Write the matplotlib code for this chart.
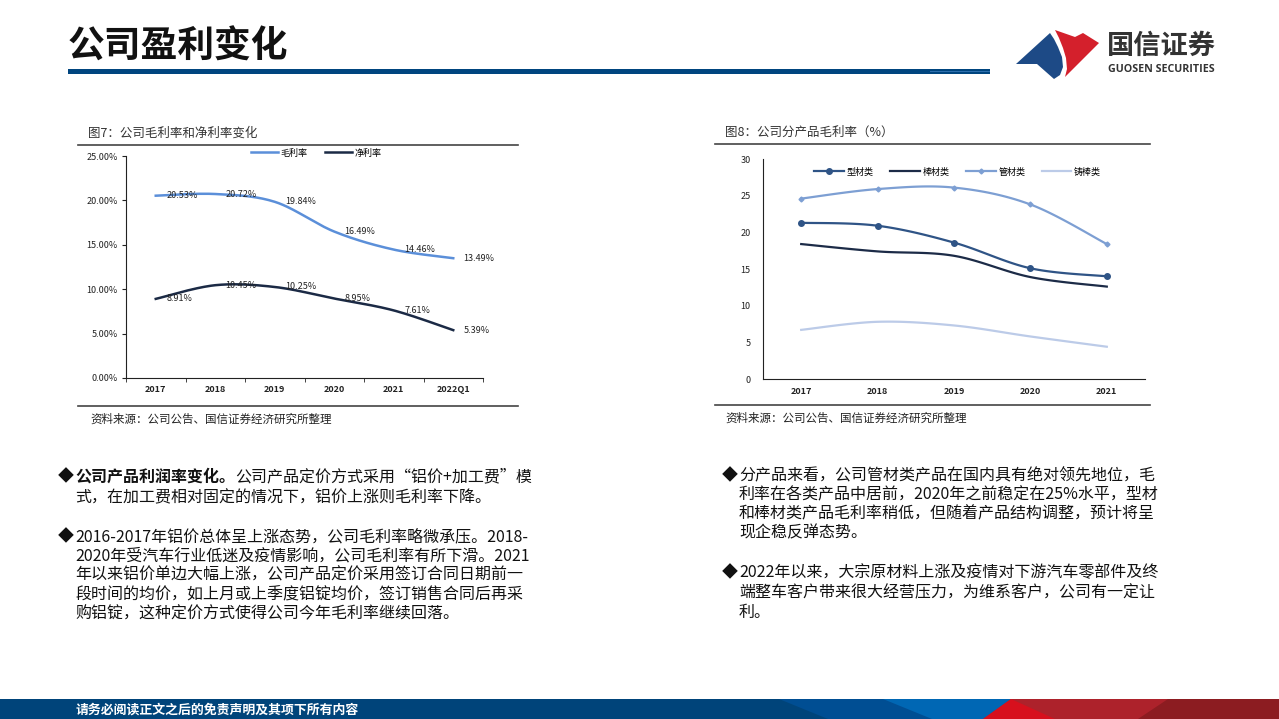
import matplotlib
matplotlib.use("Agg")
import matplotlib.pyplot as plt
from matplotlib.patches import Polygon, Rectangle
from matplotlib.ticker import FuncFormatter
import numpy as np

plt.rcParams["font.family"] = ["Noto Sans CJK SC", "DejaVu Sans"]

W, H = 1279, 719

# 图7 data (%)
years7 = ["2017", "2018", "2019", "2020", "2021", "2022Q1"]
gross7 = [20.53, 20.72, 19.84, 16.49, 14.46, 13.49]
net7 = [8.91, 10.45, 10.25, 8.95, 7.61, 5.39]

# 图8 data (%)
years8 = ["2017", "2018", "2019", "2020", "2021"]
profile8 = [21.3, 20.9, 18.6, 15.1, 14.0]   # 型材类
rod8 = [18.4, 17.4, 16.8, 13.9, 12.6]       # 棒材类
tube8 = [24.6, 25.9, 26.1, 23.8, 18.4]      # 管材类
cast8 = [6.7, 7.8, 7.3, 5.8, 4.4]           # 铸棒类

left_lines = [
    "式，在加工费相对固定的情况下，铝价上涨则毛利率下降。",
    "2016-2017年铝价总体呈上涨态势，公司毛利率略微承压。2018-",
    "2020年受汽车行业低迷及疫情影响，公司毛利率有所下滑。2021",
    "年以来铝价单边大幅上涨，公司产品定价采用签订合同日期前一",
    "段时间的均价，如上月或上季度铝锭均价，签订销售合同后再采",
    "购铝锭，这种定价方式使得公司今年毛利率继续回落。",
]
right_lines = [
    "分产品来看，公司管材类产品在国内具有绝对领先地位，毛",
    "利率在各类产品中居前，2020年之前稳定在25%水平，型材",
    "和棒材类产品毛利率稍低，但随着产品结构调整，预计将呈",
    "现企稳反弹态势。",
    "2022年以来，大宗原材料上涨及疫情对下游汽车零部件及终",
    "端整车客户带来很大经营压力，为维系客户，公司有一定让",
    "利。",
]


def smooth(vals, steps=30):
    """Excel-style smoothed line (Bezier through the points)."""
    y = np.asarray(vals, float)
    x = np.arange(len(y), dtype=float)
    P = np.column_stack([x, y])
    Pp = np.vstack([P[:1], P, P[-1:]])
    t = np.linspace(0, 1, steps)[:, None]
    out = []
    for i in range(len(y) - 1):
        p0, p3 = P[i], P[i + 1]
        p1 = p0 + (Pp[i + 2] - Pp[i]) / 6
        p2 = p3 - (Pp[i + 3] - Pp[i + 1]) / 6
        b = (1 - t) ** 3 * p0 + 3 * (1 - t) ** 2 * t * p1 + 3 * (1 - t) * t ** 2 * p2 + t ** 3 * p3
        out.append(b)
    out = np.vstack(out)
    return out[:, 0], out[:, 1]


fig = plt.figure(figsize=(W / 100, H / 100), dpi=100)
bg = fig.add_axes([0, 0, 1, 1])
bg.set_xlim(0, W)
bg.set_ylim(H, 0)
bg.axis("off")


def px_axes(x0, y0, x1, y1):
    return fig.add_axes([x0 / W, 1 - y1 / H, (x1 - x0) / W, (y1 - y0) / H])


# ---- header
bg.text(68, 47, "公司盈利变化", fontsize=26.5, fontweight="bold", color="#111111", va="center")
bg.add_patch(Rectangle((68, 69), 922, 4.5, color="#00457f", lw=0))
bg.add_patch(Rectangle((930, 70.5), 60, 1.3, color="#4d8ccc", lw=0, alpha=0.6))

# logo
blue_pts = [(1050, 33), (1016, 64), (1037, 64), (1054, 79), (1060, 75), (1063, 67),
            (1062, 57), (1058, 47), (1054, 39)]
red_pts = [(1055, 30), (1075, 37), (1083, 33), (1099, 43), (1065, 77), (1067, 69),
           (1066, 58), (1063, 48), (1059, 38)]
bg.add_patch(Polygon(blue_pts, closed=True, color="#1d4a86", lw=0))
bg.add_patch(Polygon(red_pts, closed=True, color="#d4202c", lw=0))
bg.text(1107, 46, "国信证券", fontsize=19.6, color="#333333", va="center", fontweight="bold")
bg.text(1108, 70, "GUOSEN SECURITIES", fontsize=7.7, color="#333333", va="center",
        fontweight="bold", family=["Open Sans", "DejaVu Sans"])

# ---- footer
bg.add_patch(Rectangle((0, 699), W, 20, color="#00447a", lw=0))
bg.add_patch(Polygon([(779, 699), (W, 699), (W, 719), (828, 719)], color="#004e93", lw=0))
bg.add_patch(Polygon([(883, 699), (W, 699), (W, 719), (932, 719)], color="#0067b4", lw=0))
bg.add_patch(Polygon([(1011, 699), (W, 699), (W, 719), (983, 719)], color="#ad222b", lw=0))
bg.add_patch(Polygon([(1011, 699), (1055, 719), (983, 719)], color="#d7101d", lw=0))
bg.add_patch(Polygon([(1168, 699), (W, 699), (W, 719), (1138, 719)], color="#8c1c21", lw=0))
bg.text(76, 710, "请务必阅读正文之后的免责声明及其项下所有内容", fontsize=9.3,
        color="white", va="center", fontweight="bold")

# ---- chart frames
bg.text(88, 133, "图7：公司毛利率和净利率变化", fontsize=9, color="#333333", va="center")
bg.plot([78, 518], [145, 145], color="#444444", lw=1.2)
bg.plot([78, 518], [406, 406], color="#444444", lw=1.2)
bg.text(90, 419, "资料来源：公司公告、国信证券经济研究所整理", fontsize=8.3, color="#222222", va="center")

bg.text(725, 132, "图8：公司分产品毛利率（%）", fontsize=9, color="#333333", va="center")
bg.plot([715, 1150], [144, 144], color="#444444", lw=1.2)
bg.plot([715, 1150], [405, 405], color="#444444", lw=1.2)
bg.text(725, 418, "资料来源：公司公告、国信证券经济研究所整理", fontsize=8.3, color="#222222", va="center")

# ---- chart 7
ax1 = px_axes(126, 156, 483, 378)
x7 = np.arange(len(years7))
for vals, color, name in [(gross7, "#5b8fd9", "毛利率"), (net7, "#1b2a45", "净利率")]:
    sx, sy = smooth(vals)
    ax1.plot(sx, sy, color=color, lw=1.8, label=name)
    for xi, v in zip(x7, vals):
        ax1.annotate(f"{v:.2f}%", (xi, v), xytext=(7.5, 0), textcoords="offset points",
                     ha="left", va="center", fontsize=6.5, color="#222222")
ax1.set_xlim(-0.5, len(years7) - 0.5)
ax1.set_ylim(0, 25)
ax1.set_yticks(np.arange(0, 26, 5))
ax1.yaxis.set_major_formatter(FuncFormatter(lambda v, p: f"{v:.2f}%"))
ax1.set_xticks(x7)
ax1.set_xticklabels(years7, fontweight="bold")
ax1.set_xticks(np.arange(-0.5, len(years7), 1), minor=True)
ax1.tick_params(axis="x", which="major", length=0, pad=5, labelsize=6.5, colors="#222222")
ax1.tick_params(axis="x", which="minor", length=3, direction="out", color="#222222")
ax1.tick_params(axis="y", length=3, pad=3, labelsize=6.5, colors="#222222")
for s in ["top", "right"]:
    ax1.spines[s].set_visible(False)
for s in ["left", "bottom"]:
    ax1.spines[s].set_color("#222222")
ax1.patch.set_alpha(0)
ax1.legend(loc="center", bbox_to_anchor=(0.532, 1.013), ncol=2, frameon=False, fontsize=6.5,
           handlelength=3, handletextpad=0.3, columnspacing=1.9)

# ---- chart 8
ax2 = px_axes(763, 159, 1145, 379)
x8 = np.arange(len(years8))
series8 = [
    (profile8, "#2f5486", "型材类", "o", 4),
    (rod8, "#1c2b47", "棒材类", None, 0),
    (tube8, "#7d9fd3", "管材类", "D", 2.5),
    (cast8, "#bccbe8", "铸棒类", None, 0),
]
for vals, color, name, mk, ms in series8:
    sx, sy = smooth(vals)
    ax2.plot(sx, sy, color=color, lw=1.6)
    ax2.plot(x8, vals, ls="none", marker=mk, ms=ms, color=color)
    ax2.plot([], [], color=color, lw=1.6, marker=mk, ms=ms, label=name)
ax2.set_xlim(-0.5, len(years8) - 0.5)
ax2.set_ylim(0, 30)
ax2.set_yticks(np.arange(0, 31, 5))
ax2.set_xticks(x8)
ax2.set_xticklabels(years8, fontweight="bold")
ax2.tick_params(axis="x", length=0, pad=6, labelsize=6.5, colors="#222222")
ax2.tick_params(axis="y", length=0, pad=9, labelsize=6.5, colors="#222222")
for s in ["top", "right"]:
    ax2.spines[s].set_visible(False)
for s in ["left", "bottom"]:
    ax2.spines[s].set_color("#222222")
ax2.patch.set_alpha(0)
ax2.legend(loc="center", bbox_to_anchor=(0.51, 0.941), ncol=4, frameon=False, fontsize=6.5,
           handlelength=3.3, handletextpad=0.3, columnspacing=1.8)

# ---- body text
TXT = dict(fontsize=11.5, color="#111111", va="center")
renderer = fig.canvas.get_renderer()

bg.text(58, 477, "◆", **TXT)
head = bg.text(75, 477, "公司产品利润率变化。", fontweight="bold", **TXT)
bb = head.get_window_extent(renderer)
bg.text(bb.x1, 477, "公司产品定价方式采用“铝价+加工费”模", **TXT)
left_y = [498, 537, 556, 575, 595, 614]
for line, y in zip(left_lines, left_y):
    bg.text(75, y, line, **TXT)
bg.text(58, 537, "◆", **TXT)

right_y = [476, 495, 514, 533, 573, 593, 612]
for line, y in zip(right_lines, right_y):
    bg.text(739, y, line, **TXT)
bg.text(722, 476, "◆", **TXT)
bg.text(722, 573, "◆", **TXT)

fig.savefig("out.png", dpi=100)
